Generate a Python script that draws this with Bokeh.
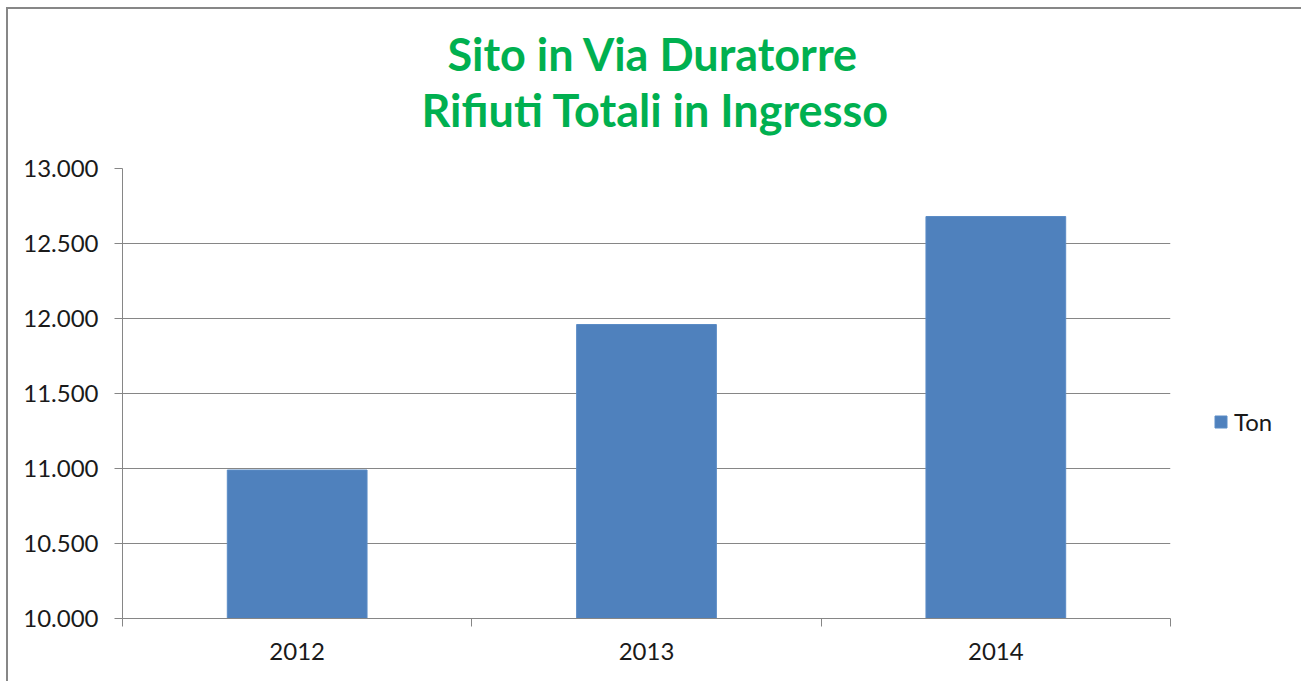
from bokeh.plotting import figure
from bokeh.models import ColumnDataSource, FixedTicker, Range1d, Legend, LegendItem, Title
from bokeh.embed import file_html
from bokeh.resources import INLINE

years = ["2012", "2013", "2014"]
ton = [10990, 11960, 12680]
y_ticks = [10000, 10500, 11000, 11500, 12000, 12500, 13000]
y_labels = ["10.000", "10.500", "11.000", "11.500", "12.000", "12.500", "13.000"]
title_lines = ["Sito in Via Duratorre", "Rifiuti Totali in Ingresso"]
series_name = "Ton"

xpos = [i + 0.5 for i in range(len(years))]
src = ColumnDataSource(dict(x=xpos, top=ton, year=years))

FONT = "Lato"
GRAY = "#868686"

p = figure(frame_width=1048, frame_height=450, output_backend="svg", toolbar_location=None,
           x_range=Range1d(0, len(years)), y_range=Range1d(y_ticks[0], y_ticks[-1]),
           min_border_left=114, min_border_right=128, min_border_top=159, min_border_bottom=63)
p.styles = {"border-left": "2px solid #878787", "border-top": "2px solid #878787",
            "border-right": "2px solid #878787", "margin-left": "6px", "margin-top": "7px"}

# spacer between the frame and the title lines
p.add_layout(Title(text=" ", text_font_size="10px", standoff=19), "above")
for line, off in zip(reversed(title_lines), [299, 325]):
    t = Title(text=line, align="left", text_font=FONT, text_font_style="bold",
              text_font_size="45px", text_color="#00B050", standoff=0, offset=off)
    p.add_layout(t, "above")

r = p.vbar(x="x", top="top", bottom=y_ticks[0], width=0.4, source=src,
           fill_color="#4F81BD", line_color="#5B8CC6", line_width=1)

p.outline_line_color = None
p.background_fill_color = "white"
p.border_fill_color = "white"

# y axis
p.yaxis.ticker = FixedTicker(ticks=y_ticks)
p.yaxis.major_label_overrides = {t: l for t, l in zip(y_ticks, y_labels)}
p.yaxis.axis_line_color = GRAY
p.yaxis.major_tick_line_color = GRAY
p.yaxis.major_tick_out = 8
p.yaxis.major_tick_in = 0
p.yaxis.minor_tick_line_color = None
p.yaxis.major_label_text_font = FONT
p.yaxis.major_label_text_font_size = "24px"
p.yaxis.major_label_text_color = "#1a1a1a"
p.yaxis.major_label_standoff = 16

# x axis
p.xaxis.ticker = FixedTicker(ticks=xpos, minor_ticks=list(range(len(years) + 1)))
p.xaxis.major_label_overrides = {x: y for x, y in zip(xpos, years)}
p.xaxis.axis_line_color = GRAY
p.xaxis.major_tick_line_color = None
p.xaxis.minor_tick_line_color = GRAY
p.xaxis.minor_tick_out = 8
p.xaxis.minor_tick_in = 0
p.xaxis.major_label_text_font = FONT
p.xaxis.major_label_text_font_size = "24px"
p.xaxis.major_label_text_color = "#1a1a1a"
p.xaxis.major_label_standoff = 16

p.xgrid.grid_line_color = None
p.ygrid.grid_line_color = GRAY
p.ygrid.ticker = FixedTicker(ticks=y_ticks)

legend = Legend(items=[LegendItem(label=series_name, renderers=[r])],
                location=(43, 182), padding=0, margin=0, spacing=0,
                glyph_width=15, glyph_height=15, label_standoff=6,
                label_text_font=FONT, label_text_font_size="24px", label_text_color="#1a1a1a",
                border_line_color=None, background_fill_alpha=0)
p.add_layout(legend, "right")

open("out.html", "w").write(file_html(p, INLINE))
